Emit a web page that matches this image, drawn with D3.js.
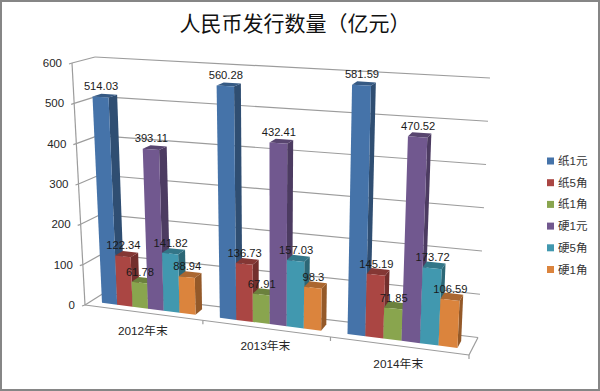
<!DOCTYPE html>
<html>
<head>
<meta charset="utf-8">
<script src="https://cdn.jsdelivr.net/npm/d3@7"></script>
<style>
html, body { margin: 0; padding: 0; background: #fff; }
text { font-family: "Liberation Sans", "Noto Sans CJK SC", sans-serif; }
</style>
</head>
<body>
<svg width="600" height="391"></svg>
<script>
const categories = ['2012年末', '2013年末', '2014年末']
const seriesNames = ['纸1元', '纸5角', '纸1角', '硬1元', '硬5角', '硬1角']
const colors = ['#4573a9', '#aa4643', '#89a54e', '#71588f', '#4198af', '#db843d']
const paper1yuan = [514.03, 560.28, 581.59]
const paper5jiao = [122.34, 136.73, 145.19]
const paper1jiao = [61.78, 67.91, 71.85]
const coin1yuan = [393.11, 432.41, 470.52]
const coin5jiao = [141.82, 157.03, 173.72]
const coin1jiao = [88.94, 98.3, 106.59]
const seriesValues = [paper1yuan, paper5jiao, paper1jiao, coin1yuan, coin5jiao, coin1jiao]
const valueTicks = [0, 100, 200, 300, 400, 500, 600]

const svg = d3.select('svg')
const width = +svg.attr('width')
const height = +svg.attr('height')

// corners of the 3d box on screen
const floorFL = [85, 305], floorFR = [469, 355], floorBL = [104, 293], floorBR = [478, 337.5]
const ceilFL = [72, 63], ceilFR = [482, 87], ceilBL = [95, 57], ceilBR = [490, 78]

const lerp = (a, b, t) => [a[0] + (b[0] - a[0]) * t, a[1] + (b[1] - a[1]) * t]
const persp = 0.886
const warp = u => persp * u / (1 + (persp - 1) * u)

const yScale = d3.scaleLinear().domain([0, 600]).range([0, 1])
const xScale = d3.scaleBand().domain(categories).range([0, 1]).paddingInner(0.2).paddingOuter(0.1)
const xSub = d3.scaleBand().domain(seriesNames).range([0, xScale.bandwidth()])

// u along categories, w depth (0 front, 1 back), value on the y axis
const project = (u, w, value) => {
    const t = warp(u)
    const front = lerp(floorFL, floorFR, t)
    const back = lerp(floorBL, floorBR, t)
    const frontTop = lerp(ceilFL, ceilFR, t)
    const backTop = lerp(ceilBL, ceilBR, t)
    return lerp(lerp(front, back, w), lerp(frontTop, backTop, w), yScale(value))
}
const poly = pts => 'M' + pts.map(p => p.join(',')).join('L') + 'Z'

// frame
svg.append('rect').attr('width', width).attr('height', height).attr('fill', '#868686')
svg.append('rect').attr('x', 2).attr('y', 2).attr('width', 596).attr('height', 387).attr('fill', '#fff')

const g = svg.append('g')
const lineColor = '#9c9c9c'
const seg = (a, b) => g.append('line')
    .attr('x1', a[0]).attr('y1', a[1]).attr('x2', b[0]).attr('y2', b[1])
    .attr('stroke', lineColor).attr('stroke-width', 1.2)

// walls
valueTicks.forEach(v => {
    seg(project(0, 0, v), project(0, 1, v))
    seg(project(0, 1, v), project(1, 1, v))
    const p = project(0, 0, v)
    seg(p, [p[0] - 3, p[1] + 1])
    g.append('text')
        .attr('x', p[0] - 10).attr('y', p[1] + 4)
        .attr('text-anchor', 'end')
        .attr('font-size', 11.5).attr('fill', '#262626')
        .text(v)
})
seg(project(0, 0, 0), project(0, 0, 600))
seg(project(0, 0, 0), project(1, 0, 0))
seg(project(1, 0, 0), project(1, 1, 0))
d3.range(1, categories.length + 1).forEach(i => {
    const p = project(i / categories.length, 0, 0)
    seg(p, [p[0], p[1] + 4])
})

// bars
const depth0 = 0.3, depth1 = 0.7
categories.forEach((cat, c) => {
    seriesNames.forEach((name, s) => {
        const v = seriesValues[s][c]
        const u0 = xScale(cat) + xSub(name)
        const u1 = u0 + xSub.bandwidth()
        const col = d3.color(colors[s])
        // right side
        g.append('path')
            .attr('d', poly([project(u1, depth0, 0), project(u1, depth1, 0), project(u1, depth1, v), project(u1, depth0, v)]))
            .attr('fill', col.darker(1.1))
        // top
        g.append('path')
            .attr('d', poly([project(u0, depth0, v), project(u1, depth0, v), project(u1, depth1, v), project(u0, depth1, v)]))
            .attr('fill', col.darker(0.7))
        // front
        g.append('path')
            .attr('d', poly([project(u0, depth0, 0), project(u1, depth0, 0), project(u1, depth0, v), project(u0, depth0, v)]))
            .attr('fill', col)
    })
})

// data labels on top of everything
categories.forEach((cat, c) => {
    seriesNames.forEach((name, s) => {
        const v = seriesValues[s][c]
        const u = xScale(cat) + xSub(name) + xSub.bandwidth() / 2
        const p = project(u, depth0, v)
        g.append('text')
            .attr('x', p[0] + 0.5).attr('y', p[1] - 7)
            .attr('text-anchor', 'middle')
            .attr('font-size', 11.2).attr('fill', '#1a1a1a')
            .text(v)
    })
})

// category labels
categories.forEach(cat => {
    const p = project(xScale(cat) + xScale.bandwidth() / 2, 0, 0)
    g.append('text')
        .attr('x', p[0]).attr('y', p[1] + 22)
        .attr('text-anchor', 'middle')
        .attr('font-size', 11.8).attr('fill', '#262626')
        .text(cat)
})

// title
svg.append('text')
    .attr('x', 295).attr('y', 31)
    .attr('text-anchor', 'middle')
    .attr('font-size', 21).attr('fill', '#111')
    .style('font-family', '"Noto Sans CJK SC", sans-serif')
    .text('人民币发行数量（亿元）')

// legend
const legend = svg.append('g').attr('transform', 'translate(547,160.5)')
const legendY = d3.scalePoint().domain(seriesNames).range([0, 108.5])
seriesNames.forEach((name, i) => {
    legend.append('rect')
        .attr('x', 0).attr('y', legendY(name) - 3)
        .attr('width', 7).attr('height', 7)
        .attr('fill', colors[i])
    legend.append('text')
        .attr('x', 11).attr('y', legendY(name) + 4.5)
        .attr('font-size', 11.5).attr('fill', '#333')
        .text(name)
})
</script>
</body>
</html>
